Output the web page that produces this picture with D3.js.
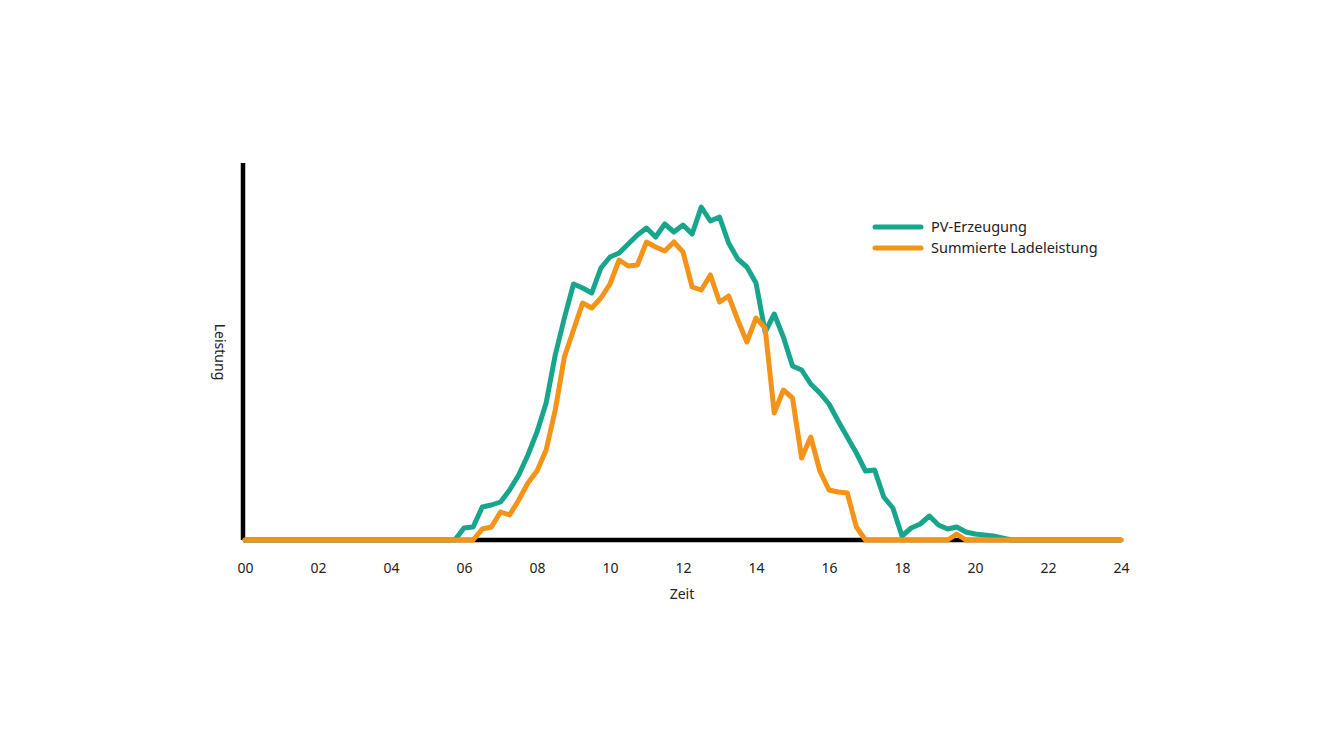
<!DOCTYPE html>
<html><head><meta charset="utf-8">
<script src="https://cdn.jsdelivr.net/npm/d3@7"></script>
<style>body{margin:0;background:#fff}svg{display:block}text{font-family:"Noto Sans","Open Sans",sans-serif;fill:#222}</style>
</head><body><svg id="c" width="1344" height="756"></svg>
<script>
// quarter-hour slots 0..96 (00:00 .. 24:00)
const slots = d3.range(0, 97);
const tickLabels = ["00","02","04","06","08","10","12","14","16","18","20","22","24"];
const seriesNames = ["PV-Erzeugung","Summierte Ladeleistung"];
const pv = [0,0,0,0,0,0,0,0,0,0,0,0,0,0,0,0,0,0,0,0,0,0,0,0,
  12,13,33,35,38,50,65,85,108,137,185,222,256,252,247,272,283,287,296,305,312,303,316,308,315,306,
  333,319,323,297,281,273,257,208,226,203,174,170,156,147,136,119,103,87,69,70,43,32,4,12,16,24,15,11,13,8,6,5,4,2,
  0,0,0,0,0,0,0,0,0,0,0,0,0];
const charging = [0,0,0,0,0,0,0,0,0,0,0,0,0,0,0,0,0,0,0,0,0,0,0,0,0,0,
  11,13,28,25,40,57,69,90,130,183,210,237,232,242,256,280,274,275,298,293,289,298,288,253,
  250,265,238,244,220,198,222,212,127,150,142,82,103,69,50,48,47,13,
  0,0,0,0,0,0,0,0,0,0,6,
  0,0,0,0,0,0,0,0,0,0,0,0,0,0,0,0,0,0];
const colors = ["#17a68c","#f39317"];

const svg = d3.select("#c");
const x = d3.scaleLinear().domain([0, 96]).range([245, 1121]);
const y = d3.scaleLinear().domain([0, 377]).range([540, 163]);

// axes
svg.append("line").attr("x1",243).attr("x2",243).attr("y1",y(377)).attr("y2",y(0))
  .attr("stroke","#000").attr("stroke-width",4.5);
svg.append("line").attr("x1",243).attr("x2",x(96)).attr("y1",y(0)).attr("y2",y(0))
  .attr("stroke","#000").attr("stroke-width",4.5);

const xAxis = d3.axisBottom(x).tickValues(d3.range(0, 97, 8))
  .tickFormat((d,i)=>tickLabels[i]).tickSize(0).tickPadding(0);
const gx = svg.append("g").attr("transform","translate(0,573)").call(xAxis);
gx.select(".domain").remove();
gx.selectAll("text").attr("font-size",14).attr("dy","0").attr("font-family","'Noto Sans',sans-serif").style("fill","#222");

svg.append("text").attr("x",682).attr("y",599).attr("text-anchor","middle").attr("font-size",14).text("Zeit");
svg.append("text").attr("transform","translate(215,352) rotate(90)").attr("text-anchor","middle").attr("font-size",14).text("Leistung");

const line = d3.line().x((d,i)=>x(slots[i])).y(d=>y(d)).curve(d3.curveLinear);
[pv, charging].forEach((s,k)=>{
  svg.append("path").datum(s).attr("d",line).attr("fill","none")
    .attr("stroke",colors[k]).attr("stroke-width",5)
    .attr("stroke-linejoin","round").attr("stroke-linecap","round");
});

// legend
seriesNames.forEach((n,k)=>{
  const yy = 227 + k*21;
  svg.append("line").attr("x1",875).attr("x2",921).attr("y1",yy).attr("y2",yy)
    .attr("stroke",colors[k]).attr("stroke-width",5).attr("stroke-linecap","round");
  svg.append("text").attr("x",931).attr("y",yy+5).attr("font-size",14.5).text(n);
});
</script></body></html>
